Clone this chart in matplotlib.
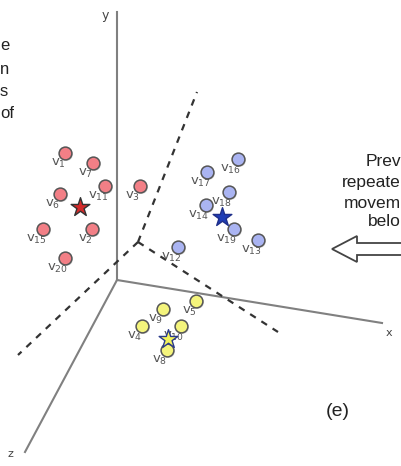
import matplotlib
matplotlib.use("Agg")
from matplotlib import pyplot as plt
from matplotlib.patches import Polygon
import numpy as np

# Posiciones (en pixeles de la imagen) de los nodos por grupo
red_x = [65, 93, 105, 140, 60, 43, 92, 65]
red_y = [153, 163, 186, 186, 194, 229, 229, 258]
red_lab = ["1", "7", "11", "3", "6", "15", "2", "20"]

blue_x = [238, 207, 229, 206, 234, 258, 178]
blue_y = [159, 172, 192, 205, 229, 240, 247]
blue_lab = ["16", "17", "18", "14", "19", "13", "12"]

yel_x = [196, 163, 142, 181, 167]
yel_y = [301, 309, 326, 326, 350]
yel_lab = ["5", "9", "4", "10", "8"]

# centroides (estrellas)
star_x = [80, 222, 168]
star_y = [207, 217, 339]
star_fill = ["#d42a2a", "#1f3db5", "#f2f25a"]
star_edge = ["#333333", "#1f2f8a", "#2a3a8a"]

# ejes 3D dibujados
origin = (117, 280)
y_end = (117, 12)
x_end = (382, 323)
z_end = (25, 452)

# particiones (lineas punteadas)
junction = (138, 242)
dash_ends = [(197, 92), (18, 355), (278, 332)]

# fragmentos de texto visibles en los bordes
left_txt = ["e", "n", "s", "of"]
left_y = [46, 69, 92, 114]
right_txt = ["Prev", "repeate", "movem", "belo"]
right_y = [162, 183, 203, 222]

fig = plt.figure(figsize=(4.02, 4.66), dpi=100)
ax = fig.add_axes([0, 0, 1, 1])
ax.set_xlim(0, 402)
ax.set_ylim(466, 0)
ax.axis("off")

axcol = "#808080"
for end in [y_end, x_end, z_end]:
    ax.plot([origin[0], end[0]], [origin[1], end[1]], color=axcol, lw=1.5, zorder=1)
ax.text(105, 16, "y", fontsize=9, color="#444444", ha="center", va="center")
ax.text(389, 333, "x", fontsize=8, color="#444444", ha="center", va="center")
ax.text(10, 454, "z", fontsize=8, color="#444444", ha="center", va="center")

for e in dash_ends:
    ax.plot([junction[0], e[0]], [junction[1], e[1]], color="#333333", lw=1.6,
            linestyle=(0, (3, 3)), zorder=1)

def nodos(xs, ys, labs, fill):
    ax.scatter(np.array(xs) + 1.2, np.array(ys) + 1.2, s=85, color="#bbbbbb",
               alpha=0.6, linewidths=0, zorder=2)
    ax.scatter(xs, ys, s=85, color=fill, edgecolors="#555555", linewidths=1.1, zorder=3)
    for x, y, l in zip(xs, ys, labs):
        ax.text(x - 7, y + 10, r"$\mathregular{v_{" + l + "}}$", fontsize=9.5,
                color="#555555", ha="center", va="center", zorder=4)

nodos(red_x, red_y, red_lab, "#f27f86")
nodos(blue_x, blue_y, blue_lab, "#aab4f2")
nodos(yel_x, yel_y, yel_lab, "#f4f47c")

for sx, sy, f, ec in zip(star_x, star_y, star_fill, star_edge):
    ax.scatter(sx, sy, s=200, marker="*", color=f, edgecolors=ec, linewidths=1, zorder=5)

font = "Liberation Sans"
for t, yy in zip(left_txt, left_y):
    ax.text(0, yy, t, fontsize=12, color="#222222", ha="left", va="center", family=font)

for t, yy in zip(right_txt, right_y):
    ax.text(401, yy, t, fontsize=12.5, color="#222222", ha="right", va="center", family=font)

# flecha hueca
arrow = np.array([[332, 249], [357, 236], [357, 243], [410, 243],
                  [410, 255], [357, 255], [357, 262]])
ax.add_patch(Polygon(arrow, closed=True, facecolor="white", edgecolor="#444444", lw=1.3))

ax.text(338, 411, "(e)", fontsize=14, color="#222222", ha="center", va="center", family=font)

fig.savefig("out.png", dpi=100)
